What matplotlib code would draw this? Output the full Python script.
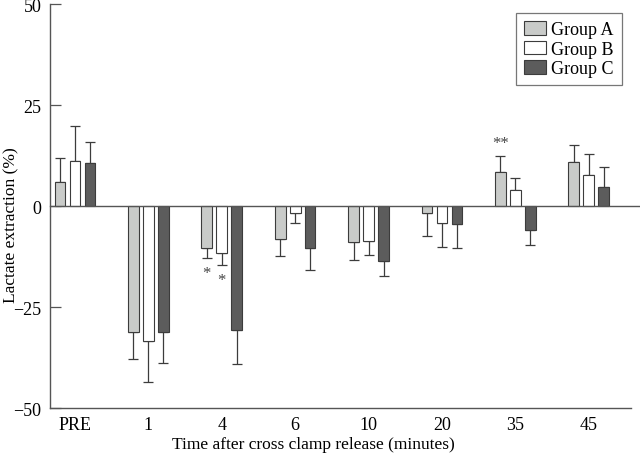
import numpy as np
import matplotlib.pyplot as plt

plt.rcParams['font.family'] = ['Liberation Serif', 'DejaVu Serif']

# --- data ---
times = ['PRE', '1', '4', '6', '10', '20', '35', '45']
groups = ['Group A', 'Group B', 'Group C']

group_a = [6.0, -31.3, -10.3, -8.2, -9.0, -1.8, 8.3, 10.9]
group_b = [11.1, -33.4, -11.7, -1.7, -8.6, -4.3, 4.0, 7.8]
group_c = [10.6, -31.2, -30.6, -10.5, -13.5, -4.4, -5.9, 4.6]

err_a = [6.0, 6.5, 2.6, 4.2, 4.4, 5.6, 4.2, 4.1]
err_b = [8.8, 10.1, 2.9, 2.6, 3.6, 5.8, 2.9, 5.1]
err_c = [5.2, 7.7, 8.5, 5.3, 3.9, 6.1, 3.8, 5.0]

# significance marks: (time index, group index, label)
marks = [(2, 0, '*'), (2, 1, '*'), (6, 0, '**')]

colors = ['#c9cbc9', '#ffffff', '#5c5c5c']
edge = '#3c3c3c'

fig = plt.figure(figsize=(6.4, 4.56), dpi=100)
ax = fig.add_axes([0.078, 0.103, 0.908, 0.886])

x = np.arange(len(times))
width = 0.146
offsets = [-0.204, 0.0, 0.204]
values = [group_a, group_b, group_c]
errors = [err_a, err_b, err_c]

for vals, errs, off, col, name in zip(values, errors, offsets, colors, groups):
    vals = np.array(vals)
    errs = np.array(errs)
    lower = np.where(vals < 0, errs, 0)
    upper = np.where(vals >= 0, errs, 0)
    ax.bar(x + off, vals, width, color=col, edgecolor=edge, linewidth=0.8,
           label=name, zorder=2)
    ax.errorbar(x + off, vals, yerr=[lower, upper], fmt='none', ecolor=edge,
                elinewidth=0.9, capsize=3.8, capthick=0.9, zorder=1)

for ti, gi, lab in marks:
    v = values[gi][ti]
    e = errors[gi][ti]
    if v < 0:
        y = v - e - 3.6
    else:
        y = v + e + 3.0
    ax.text(x[ti] + offsets[gi], y, lab, ha='center', va='center',
            fontsize=12, color='#444444')

ax.axhline(0, xmin=0, xmax=1.0155, color='#555555', linewidth=1.0,
           clip_on=False, zorder=3)

ax.set_xlim(-0.34, 7.575)
ax.set_ylim(-50, 50)
ax.set_yticks([-50, -25, 0, 25, 50])
ax.set_yticklabels(['\u221250', '\u221225', '0', '25', '50'])
ax.set_xticks(x)
ax.set_xticklabels(times)
ax.tick_params(axis='y', direction='in', length=8, width=0.9, color='#555555',
               labelsize=13, pad=6)
ax.tick_params(axis='x', length=0, labelsize=13, pad=6)

for s in ['top', 'right']:
    ax.spines[s].set_visible(False)
for s in ['left', 'bottom']:
    ax.spines[s].set_color('#555555')
    ax.spines[s].set_linewidth(1.0)

ax.set_xlabel('Time after cross clamp release (minutes)', fontsize=12.5)
ax.xaxis.set_label_coords(0.4535, -0.068)
ax.xaxis.label.set_va('top')
ax.set_ylabel('Lactate extraction (%)', fontsize=12.5)
ax.yaxis.set_label_coords(-0.053, 0.455)

leg = ax.legend(loc='upper right', bbox_to_anchor=(1.0, 1.0), fontsize=13,
                frameon=True, fancybox=False, edgecolor='#555555',
                handlelength=1.2, handleheight=0.8, handletextpad=0.3,
                labelspacing=0.12, borderpad=0.45)
leg.get_frame().set_linewidth(0.9)

fig.savefig('out.png', dpi=100)
